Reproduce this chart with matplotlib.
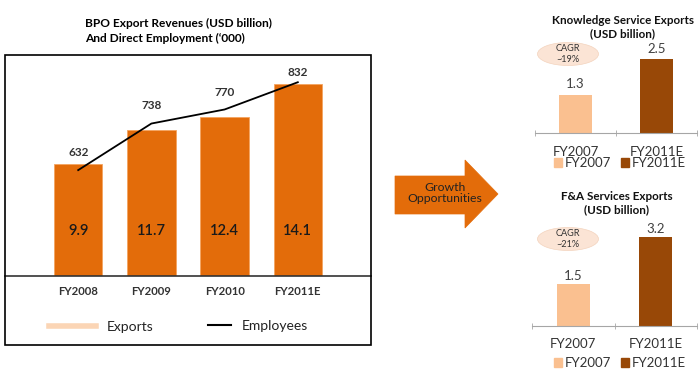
import matplotlib
matplotlib.use("Agg")
import matplotlib.pyplot as plt
from matplotlib.patches import Rectangle, Ellipse, Polygon, Patch
from matplotlib.lines import Line2D
import matplotlib.transforms as mtransforms

plt.rcParams['font.family'] = ['Lato', 'DejaVu Sans']

# ---------------- data ----------------
years = ["FY2008", "FY2009", "FY2010", "FY2011E"]
exports = [9.9, 11.7, 12.4, 14.1]          # USD billion
employees = [632, 738, 770, 832]           # '000

ks_years = ["FY2007", "FY2011E"]
ks_values = [1.3, 2.5]
ks_cagr = "CAGR\n~19%"

fa_years = ["FY2007", "FY2011E"]
fa_values = [1.5, 3.2]
fa_cagr = "CAGR\n~21%"

# ---------------- style ----------------
W, H = 700, 383
ORANGE = "#E36C0A"
PEACH = "#FAC090"
BROWN = "#984807"
LEG_PEACH = "#FBD5B5"
ELL = "#FBE4D5"

fig = plt.figure(figsize=(W / 100, H / 100), dpi=100)


def fr(x0, y0, x1, y1):
    """pixel box (top-left origin) -> figure fraction rect"""
    return [x0 / W, 1 - y1 / H, (x1 - x0) / W, (y1 - y0) / H]


def fp(x, y):
    return x / W, 1 - y / H


# ---------------- main chart ----------------
fig.patches.append(Rectangle(fp(5, 345), 366 / W, 290 / H, transform=fig.transFigure,
                             fill=False, edgecolor="black", lw=1.2, zorder=0))

ax = fig.add_axes(fr(5, 55, 371, 276))
xs = list(range(len(years)))
ax.bar(xs, exports, width=0.66, color=ORANGE, edgecolor="#F4A460", lw=0.6, zorder=2)
ax.set_xlim(-1, 4)
ax.set_ylim(4.06, 15.62)
for s in ["left", "right", "top"]:
    ax.spines[s].set_visible(False)
ax.spines["bottom"].set_color("#333333")
ax.spines["bottom"].set_linewidth(1.2)
ax.set_yticks([])
ax.set_xticks(xs)
ax.set_xticklabels(years, fontsize=8.2, fontweight="bold", color="#333333")
ax.tick_params(axis="x", length=0, pad=7)
ax.patch.set_alpha(0)

tr = mtransforms.blended_transform_factory(ax.transData, ax.transAxes)
for x, v in zip(xs, exports):
    ax.text(x, 0.204, f"{v:.1f}", transform=tr, ha="center", va="center",
            fontsize=10.5, color="#1a1a1a", fontweight="semibold")

ax2 = ax.twinx()
ax2.set_ylim(391, 894)
ax2.plot(xs, employees, color="black", lw=1.3, zorder=3)
for s in ["left", "right", "top", "bottom"]:
    ax2.spines[s].set_visible(False)
ax2.set_yticks([])
emp_offsets = [13, 13, 12, 7]
for x, v, o in zip(xs, employees, emp_offsets):
    ax2.annotate(f"{v}", (x, v), xytext=(0, o), textcoords="offset points",
                 ha="center", va="center", fontsize=8.5, fontweight="bold", color="#333333")

fig.text(85 / W, 1 - 23 / H, "BPO Export Revenues (USD billion)", fontsize=8.6,
         fontweight="bold", ha="left", va="center")
fig.text(85 / W, 1 - 38 / H, "And Direct Employment (\u2018000)", fontsize=8.6,
         fontweight="bold", ha="left", va="center")

leg1 = fig.legend(handles=[Line2D([], [], color=LEG_PEACH, lw=4)], labels=["Exports"],
                  loc="center left", bbox_to_anchor=fp(36, 327), frameon=False,
                  fontsize=10, handlelength=3.4, handletextpad=0.8)
for t in leg1.get_texts():
    t.set_color("#222222")
leg2 = fig.legend(handles=[Line2D([], [], color="black", lw=1.5)], labels=["Employees"],
                  loc="center left", bbox_to_anchor=fp(195, 326), frameon=False,
                  fontsize=10, handlelength=1.7, handletextpad=0.8)
for t in leg2.get_texts():
    t.set_color("#222222")

# ---------------- arrow ----------------
arrow_pts = [fp(395, 176), fp(465, 176), fp(465, 160), fp(498, 194),
             fp(465, 228), fp(465, 214), fp(395, 214)]
fig.patches.append(Polygon(arrow_pts, closed=True, transform=fig.transFigure,
                           facecolor=ORANGE, edgecolor=ORANGE, lw=0.5))
fig.text(445 / W, 1 - 193 / H, "Growth\nOpportunities", ha="center", va="center",
         fontsize=8.8, color="#222222", linespacing=1.1)


# ---------------- small charts ----------------
def small_chart(rect, cats, vals, ymax, title_y, title_x, title, cagr, ell_c, leg_y, lab_off):
    a = fig.add_axes(rect)
    xs_ = list(range(len(cats)))
    a.bar(xs_, vals, width=0.4, color=[PEACH, BROWN], zorder=2)
    a.set_xlim(-0.5, 1.5)
    a.set_ylim(0, ymax)
    for s in ["left", "right", "top"]:
        a.spines[s].set_visible(False)
    a.spines["bottom"].set_color("#A6A6A6")
    a.set_yticks([])
    a.set_xticks(xs_)
    a.set_xticklabels(cats, fontsize=9.5, color="#333333")
    a.tick_params(axis="x", length=0, pad=9)
    a.set_xticks([-0.5, 0.5, 1.5], minor=True)
    a.tick_params(axis="x", which="minor", length=4, color="#A6A6A6", direction="inout")
    a.patch.set_alpha(0)
    for x, v in zip(xs_, vals):
        a.annotate(f"{v}", (x, v), xytext=(0, lab_off), textcoords="offset points",
                   ha="center", va="bottom", fontsize=9.5, color="#404040")
    fig.text(title_x / W, 1 - title_y / H, title, ha="center", va="center",
             fontsize=8.4, fontweight="bold", color="#111111", linespacing=1.2)
    fig.patches.append(Ellipse(fp(*ell_c), 61 / W, 23 / H, transform=fig.transFigure,
                               facecolor=ELL, edgecolor="#F3D3BD", lw=0.5))
    fig.text(ell_c[0] / W, 1 - ell_c[1] / H, cagr, ha="center", va="center",
             fontsize=6.6, color="#333333", linespacing=1.2)
    lg = fig.legend(handles=[Patch(color=PEACH), Patch(color=BROWN)], labels=cats,
                    loc="center", bbox_to_anchor=fp(620, leg_y), ncol=2, frameon=False,
                    fontsize=9.5, handlelength=0.6, handleheight=0.6, handletextpad=0.25,
                    columnspacing=0.7)
    for t in lg.get_texts():
        t.set_color("#333333")


small_chart(fr(535, 44.5, 697, 133), ks_years, ks_values, 3.0, 27,
            623, "Knowledge Service Exports\n(USD billion)", ks_cagr, (568, 54), 163, 3)
small_chart(fr(532, 229, 697, 326), fa_years, fa_values, 3.5, 203,
            617, "F&A Services Exports\n(USD billion)", fa_cagr, (568, 239), 363, 2)

fig.savefig("out.png", dpi=100)
